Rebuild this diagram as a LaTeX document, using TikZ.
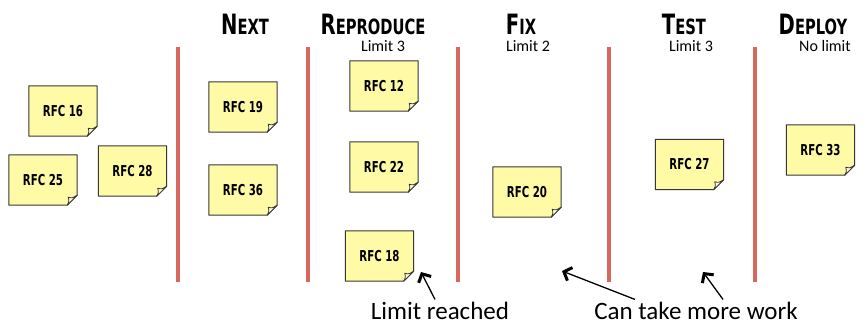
\documentclass[tikz,border=0pt]{standalone}
\usepackage{fontspec}
\usepackage{graphicx}
\setmainfont{Carlito}
\newfontfamily\hdfont{DejaVu Sans}
\usetikzlibrary{arrows.meta,backgrounds}
\definecolor{notefill}{RGB}{255,250,165}
\definecolor{noteline}{RGB}{55,55,55}
\definecolor{divred}{RGB}{214,104,94}
\newcommand\hd[2]{\scalebox{0.7}[1]{\hdfont\bfseries{\fontsize{28}{30}\selectfont #1}{\fontsize{21}{24}\selectfont #2}}}
\newcommand\rfc[1]{\scalebox{0.68}[1]{\hdfont\bfseries\fontsize{15}{17}\selectfont RFC #1}}
\begin{document}
\begin{tikzpicture}[x=1pt,y=-1pt,
  note/.style={minimum width=68pt,minimum height=50pt,inner sep=0pt},
  notebody/.style={fill=notefill,draw=noteline,line width=1pt,line join=round},
  notefold/.style={fill=notefill!45!white,draw=noteline,line width=0.8pt,line join=round},
  divider/.style={draw=divred,line width=4pt},
  hdr/.style={anchor=base,inner sep=0pt},
  sub/.style={anchor=base,inner sep=0pt,font=\fontsize{16}{18}\selectfont},
  lbl/.style={anchor=base,inner sep=2pt,font=\fontsize{25}{28}\selectfont},
  arr/.style={line width=1.3pt,-{Straight Barb[length=6.5pt,width=14pt,line width=3pt]}}]
\useasboundingbox (0,0) rectangle (867,325);

% dividers
\draw[divider] (178,47) -- (178,282);
\draw[divider] (308,47) -- (308,282);
\draw[divider] (458,47) -- (458,282);
\draw[divider] (609,47) -- (609,282);
\draw[divider] (755,47) -- (755,282);

% headers
\node[hdr] (hnext) at (245,34) {\hd{N}{EXT}};
\node[hdr] (hrep) at (373,34) {\hd{R}{EPRODUCE}};
\node[hdr] (hfix) at (521,34) {\hd{F}{IX}};
\node[hdr] (htest) at (684,34) {\hd{T}{EST}};
\node[hdr] (hdep) at (813,34) {\hd{D}{EPLOY}};
\node[sub] (srep) at (383,51) {Limit 3};
\node[sub] (sfix) at (528,51) {Limit 2};
\node[sub] (stest) at (691,51) {Limit 3};
\node[sub] (sdep) at (825,51) {No limit};

% notes
\node[note] (n16) at (63,111) {\rfc{16}};
\node[note] (n25) at (43,180) {\rfc{25}};
\node[note] (n28) at (132.5,171) {\rfc{28}};
\node[note] (n19) at (243,107) {\rfc{19}};
\node[note] (n36) at (243,190) {\rfc{36}};
\node[note] (n12) at (384,86) {\rfc{12}};
\node[note] (n22) at (384,167) {\rfc{22}};
\node[note] (n18) at (379.5,256) {\rfc{18}};
\node[note] (n20) at (527,192) {\rfc{20}};
\node[note] (n27) at (689.5,164.5) {\rfc{27}};
\node[note] (n33) at (820.5,150) {\rfc{33}};

\begin{scope}[on background layer]
\fill[white] (0,0) rectangle (867,325);
\foreach \n in {n16,n25,n28,n19,n36,n12,n22,n18,n20,n27,n33}{
  \path[notebody] (\n.north west) -- (\n.north east) -- ([yshift=10pt]\n.south east)
     -- ([xshift=-10pt]\n.south east) -- (\n.south west) -- cycle;
  \path[notefold] ([yshift=10pt]\n.south east) .. controls ([xshift=-5pt,yshift=7pt]\n.south east) .. ([xshift=-9pt,yshift=8pt]\n.south east)
     .. controls ([xshift=-8pt,yshift=4pt]\n.south east) .. ([xshift=-10pt]\n.south east) -- cycle;
}
\end{scope}

% bottom labels and arrows
\node[lbl] (lr) at (440,319) {Limit reached};
\node[lbl] (ct) at (696,319) {Can take more work};
\coordinate (h1) at (421,272);
\coordinate (h2) at (562,271);
\coordinate (h3) at (703,272);
\draw[arr] ([xshift=-5pt]lr.north) -- (h1);
\draw[arr] ([xshift=-61pt]ct.north) -- (h2);
\draw[arr] ([xshift=27pt]ct.north) -- (h3);
\end{tikzpicture}
\end{document}
